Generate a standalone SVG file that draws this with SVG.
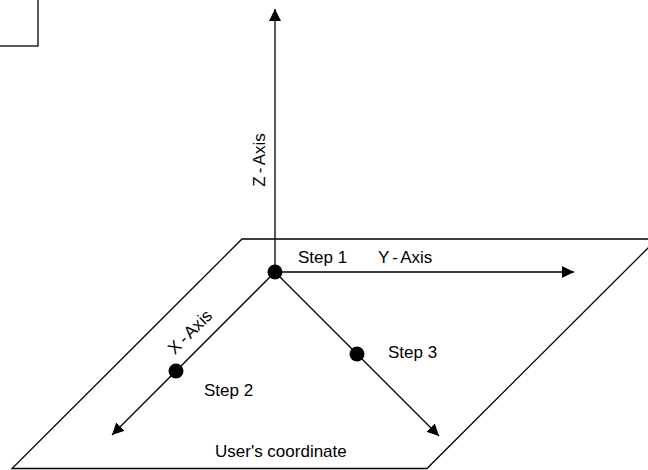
<svg xmlns="http://www.w3.org/2000/svg" width="648" height="470" viewBox="0 0 648 470">
<style>
.ln{stroke:#000;stroke-width:1.3;fill:none}
.t{font-family:"Liberation Sans",Arial,sans-serif;font-size:17px;fill:#000}
</style>
<defs>
<marker id="ah" markerUnits="userSpaceOnUse" markerWidth="14" markerHeight="12" refX="12" refY="6" orient="auto">
<path d="M0,0 L12,6 L0,12 Z" fill="#000"/>
</marker>
</defs>
<rect width="648" height="470" fill="#fff"/>
<g id="box"><rect x="-2" y="-2" width="40" height="48" class="ln" stroke-width="1.6"/></g>
<g id="plane"><path d="M242,239 L657,239 L427,468.5 L12,468.5 Z" class="ln"/></g>
<g id="connectors">
<line x1="275" y1="272" x2="275" y2="9" class="ln" marker-end="url(#ah)"/>
<line x1="275" y1="272" x2="574" y2="272" class="ln" marker-end="url(#ah)"/>
<line x1="275" y1="272" x2="112" y2="435" class="ln" marker-end="url(#ah)"/>
<line x1="275" y1="272" x2="439" y2="436" class="ln" marker-end="url(#ah)"/>
</g>
<g id="origin"><circle cx="275" cy="272" r="7.5" fill="#000"/><text class="t" x="298" y="263">Step 1</text></g>
<g id="step2"><circle cx="176" cy="371" r="7.5" fill="#000"/><text class="t" x="204" y="396">Step 2</text></g>
<g id="step3"><circle cx="357" cy="354" r="7.5" fill="#000"/><text class="t" x="388" y="358">Step 3</text></g>
<g id="labels">
<text class="t" x="378" y="263" word-spacing="-1.5">Y - Axis</text>
<text class="t" x="0" y="0" word-spacing="-1.5" text-anchor="middle" transform="translate(265,160) rotate(-90)">Z - Axis</text>
<text class="t" x="0" y="0" font-size="20" word-spacing="-1.5" text-anchor="middle" transform="translate(194,336) rotate(-45)">X - Axis</text>
<text class="t" x="215" y="457">User's coordinate</text>
</g>
</svg>
